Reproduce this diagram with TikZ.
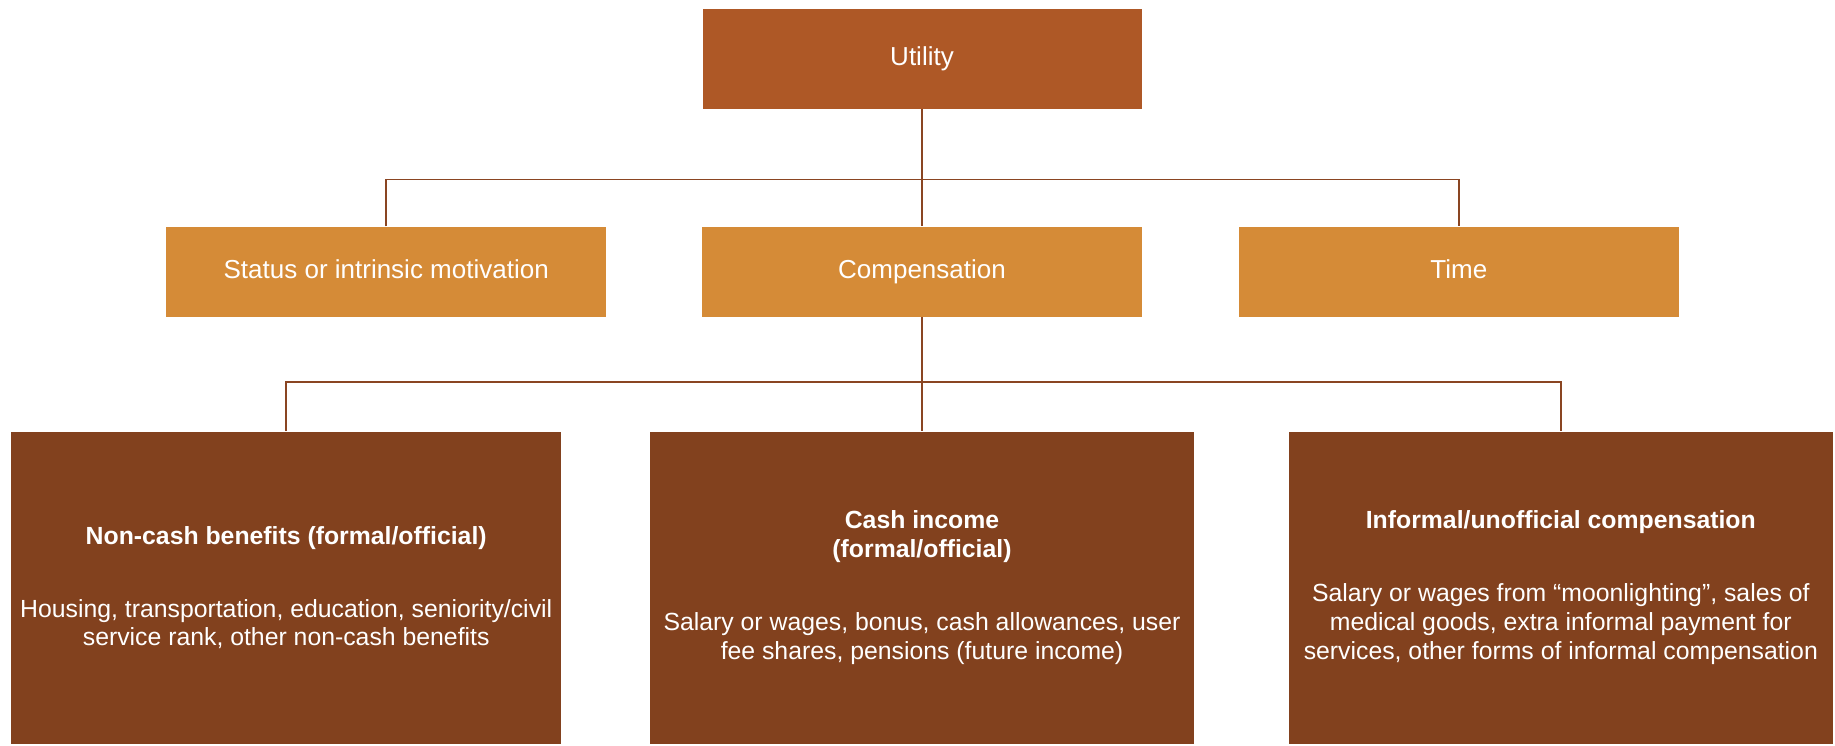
\documentclass[tikz,border=0pt]{standalone}
\usepackage{fontspec}
\setmainfont{Liberation Sans}
\usetikzlibrary{positioning,calc}
\definecolor{cTop}{HTML}{AE5826}
\definecolor{cMid}{HTML}{D58B37}
\definecolor{cLeaf}{HTML}{82411E}
\definecolor{cLine}{HTML}{8A4522}
\tikzset{
  box/.style={fill=#1, text=white, align=center, inner sep=2pt},
  topb/.style={box=cTop, minimum width=219.5pt, minimum height=50pt,
               font=\fontsize{13}{15}\selectfont},
  midb/.style={box=cMid, minimum width=220pt, minimum height=45pt,
               text height=9.5pt, text depth=2.5pt,
               font=\fontsize{13}{15}\selectfont},
  leaf/.style={box=cLeaf, minimum width=272pt, minimum height=156pt,
               font=\fontsize{12.4}{14.4}\selectfont},
  link/.style={draw=cLine, line width=0.75pt},
}
\begin{document}
\begin{tikzpicture}
\useasboundingbox (0,0) rectangle (917.5pt,-372.5pt);

% ------------------------------------------------------------------ top
\node[topb] (util) at (461pt,-29.5pt) {Utility};

% ------------------------------------------------------------------ middle row
\node[midb, below=58.5pt of util] (comp)   {Compensation};
\node[midb, left=47.5pt of comp]  (status) {Status or intrinsic motivation};
\node[midb, right=48pt of comp]   (time)   {Time};

\coordinate (bus1) at ($(util.south)+(0,-35pt)$);
\draw[link] (util.south) -- (comp.north);
\draw[link] (status.north) |- (bus1) -| (time.north);

% ------------------------------------------------------------------ compensation parts
\node[leaf, below=57pt of comp] (cash)
  {\textbf{Cash income}\\\textbf{(formal/official)}\\[22pt]
   Salary or wages, bonus, cash allowances, user\\fee shares, pensions (future income)};
\node[leaf, left=44pt of cash, minimum width=275pt] (noncash)
  {\textbf{Non-cash benefits (formal/official)}\\[22pt]
   Housing, transportation, education, seniority/civil\\service rank, other non-cash benefits};
\node[leaf, right=47pt of cash] (informal)
  {\textbf{Informal/unofficial compensation}\\[22pt]
   Salary or wages from “moonlighting”, sales of\\medical goods, extra informal payment for\\services, other forms of informal compensation};

\coordinate (bus2) at ($(comp.south)+(0,-32.5pt)$);
\draw[link] (comp.south) -- (cash.north);
\draw[link] (noncash.north) |- (bus2) -| (informal.north);

\end{tikzpicture}
\end{document}
